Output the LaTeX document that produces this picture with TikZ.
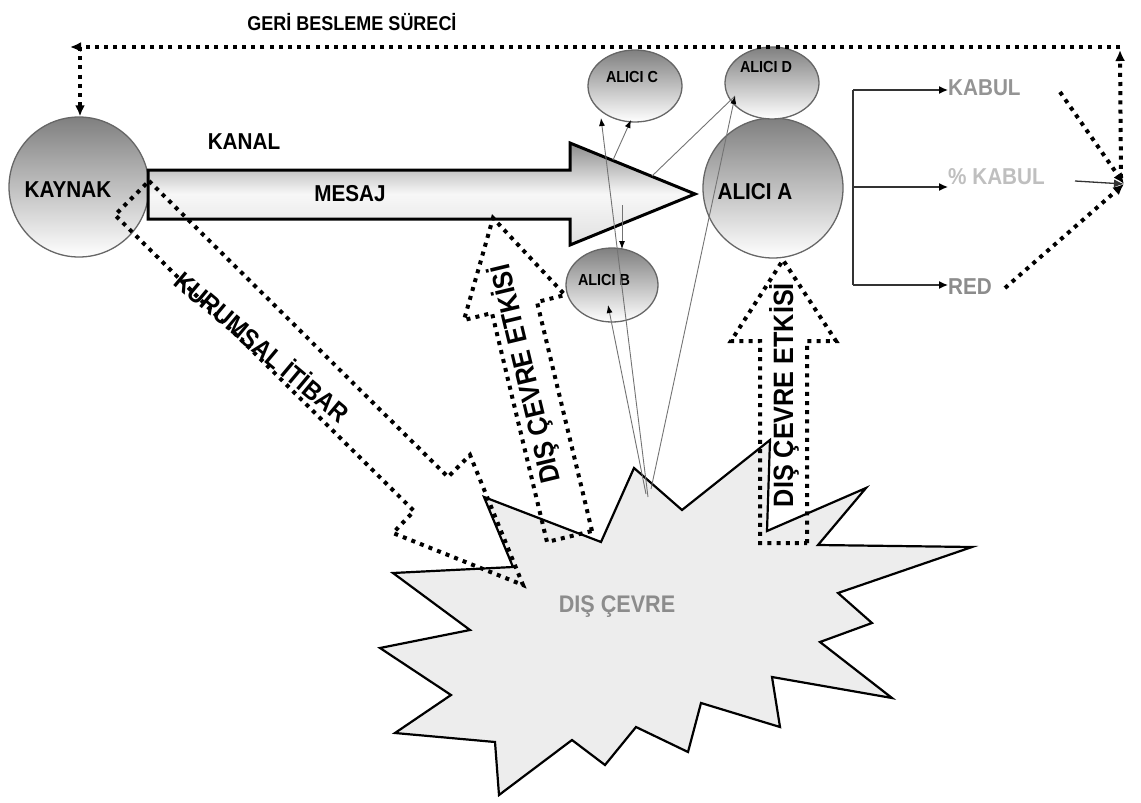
\documentclass[tikz,border=0pt]{standalone}
\usepackage{fontspec}
\setmainfont{Liberation Sans}
\newfontfamily\lbl[FakeStretch=0.9]{Liberation Sans}
\usetikzlibrary{shapes.geometric,arrows.meta}

\tikzset{
  dotline/.style={line width=4pt, dash pattern=on 4pt off 5.2pt, black},
  dothead/.style={-{Latex[length=11pt,width=10pt]}},
  ball/.style={circle, draw=black!60, line width=1.3pt, top color=black!50, bottom color=white,
               inner sep=0pt, minimum size=#1},
  egg/.style={ellipse, draw=black!60, line width=1.3pt, top color=black!50, bottom color=white,
              inner sep=0pt, minimum width=94pt, minimum height=72pt},
  lab/.style={font=\lbl\bfseries\fontsize{#1}{#1}\selectfont, inner sep=0pt},
  conn/.style={draw=black!55, line width=0.9pt, -{Latex[length=8pt,width=6pt,color=black]}},
  connplain/.style={draw=black!55, line width=0.9pt},
  branch/.style={draw=black!80, line width=1.3pt},
  branchtip/.style={branch, -{Latex[length=9pt,width=8pt,color=black]}},
  burst/.style={draw=black, line width=2.2pt, fill=black!7, line join=miter},
  bigarrow/.style={draw=black, line width=3pt, line join=miter,
                   top color=black!45, bottom color=black!12, middle color=black!3},
}

\begin{document}
\begin{tikzpicture}[x=1pt,y=-1pt]
\useasboundingbox (0,0) rectangle (1141,803);

% ---- outside world (starburst) ----
\draw[burst] (484,497) -- (601,542) -- (634,468) -- (682,510) -- (770,440) -- (767,531)
  -- (866,488) -- (818,545) -- (972,547) -- (838,593) -- (872,623) -- (820,642)
  -- (892,698) -- (772,677) -- (780,727) -- (701,703) -- (688,752) -- (636,727)
  -- (605,765) -- (572,740) -- (499,795) -- (495,742) -- (395,733) -- (451,695)
  -- (380,648) -- (470,630) -- (393,573) -- (513,567) -- cycle;
\node[lab=24, text=black!45] (cevre) at (617,607) {DIŞ ÇEVRE};

% ---- source and receivers ----
\node[ball=140pt] (kaynak) at (79,187) {};
\node[lab=23] (kaynakt) at (68,190) {KAYNAK};

\node[ball=140pt] (alciA) at (773,188) {};
\node[lab=23] (alciAt) at (755,192) {ALICI A};

\node[egg] (alciD) at (772,83) {};
\node[lab=16] (alciDt) at (766,67) {ALICI D};
\node[egg] (alciC) at (635,86) {};
\node[lab=16] (alciCt) at (632,77) {ALICI C};
\node[egg, minimum width=92pt, minimum height=74pt] (alciB) at (612,285) {};
\node[lab=16] (alciBt) at (604,280) {ALICI B};

% ---- channel / message arrow ----
\draw[bigarrow] (148,170) -- (570,170) -- (570,143) -- (695,194) -- (570,245)
  -- (570,219) -- (148,219) -- cycle;
\node[lab=23] (kanal) at (244,142) {KANAL};
\node[lab=23] (mesaj) at (350,194) {MESAJ};

% ---- corporate reputation arrow ----
\draw[dotline, line join=miter] (149,181) -- (448,477) -- (470,455) -- (523,585)
  -- (393,533) -- (414,511) -- (115,215) -- cycle;
\node[lab=26, rotate=-40] (itibar) at (263,346) {KURUMSAL İTİBAR};

% ---- environment influence arrows ----
\draw[dotline, line join=miter] (592,531) -- (537,302) -- (565,295) -- (493,218)
  -- (464,320) -- (492,313) -- (547,542) -- cycle;
\node[lab=28, rotate=103.5] (etki1) at (526,374) {DIŞ ÇEVRE ETKİSİ};

\draw[dotline, line join=miter] (807,543) -- (807,341) -- (836,341) -- (783,260)
  -- (731,341) -- (760,341) -- (760,543) -- cycle;
\node[lab=28, rotate=90] (etki2) at (784,395) {DIŞ ÇEVRE ETKİSİ};

% ---- thin influence lines ----
\coordinate (sb1) at (648,497);
\coordinate (sb2) at (646,494);
\coordinate (sb3) at (651,489);
\coordinate (cL) at (601,118);
\coordinate (cR) at (631,120);
\coordinate (mh1) at (613,160);
\coordinate (mh2) at (622,205);
\coordinate (bT) at (622,249);
\coordinate (bB) at (608,305);
\coordinate (dL) at (735,96);
\coordinate (mh3) at (652,176);
\draw[conn] (sb1) -- (cL);
\draw[conn] (mh1) -- (cR);
\draw[conn] (mh2) -- (bT);
\draw[conn] (sb2) -- (bB);
\draw[connplain] (mh3) -- (dL);
\draw[conn] (sb3) -- (dL);

% ---- outcomes ----
\node[lab=23, text=black!42, anchor=west] (kabul) at (948,88) {KABUL};
\node[lab=23, text=black!25, anchor=west] (pkabul) at (948,177) {\% KABUL};
\node[lab=23, text=black!45, anchor=west] (red) at (948,287) {RED};
\coordinate (brT) at (853,90);
\coordinate (brM) at (853,187);
\coordinate (brB) at (853,285);
\draw[branch] (brT) -- (brB);
\draw[branchtip] (brT) -- (kabul.west |- brT);
\draw[branchtip] (brM) -- (pkabul.west |- brM);
\draw[branchtip] (brB) -- (red.west |- brB);

% ---- feedback process ----
\coordinate (conv) at (1124,184);
\coordinate (fbR) at (1120,47);
\coordinate (fbL) at (80,47);
\coordinate (fbEnd) at (70,47);
\coordinate (kabR) at (1060,92);
\coordinate (pkR) at (1075,181);
\coordinate (redR) at (1005,288);
\draw[dotline, dothead] (kabR) -- (conv);
\draw[branch, -{Latex[length=10pt,width=8pt]}] (pkR) -- (conv);
\draw[dotline, dothead] (redR) -- (conv);
\draw[dotline, dothead] (1121,178) -- (1120,50);
\draw[dotline, dothead] (fbR) -- (fbEnd);
\draw[dotline, dothead] (fbL) -- (kaynak.north -| fbL);
\node[lab=20] (geri) at (352,22) {GERİ BESLEME SÜRECİ};
\end{tikzpicture}
\end{document}
